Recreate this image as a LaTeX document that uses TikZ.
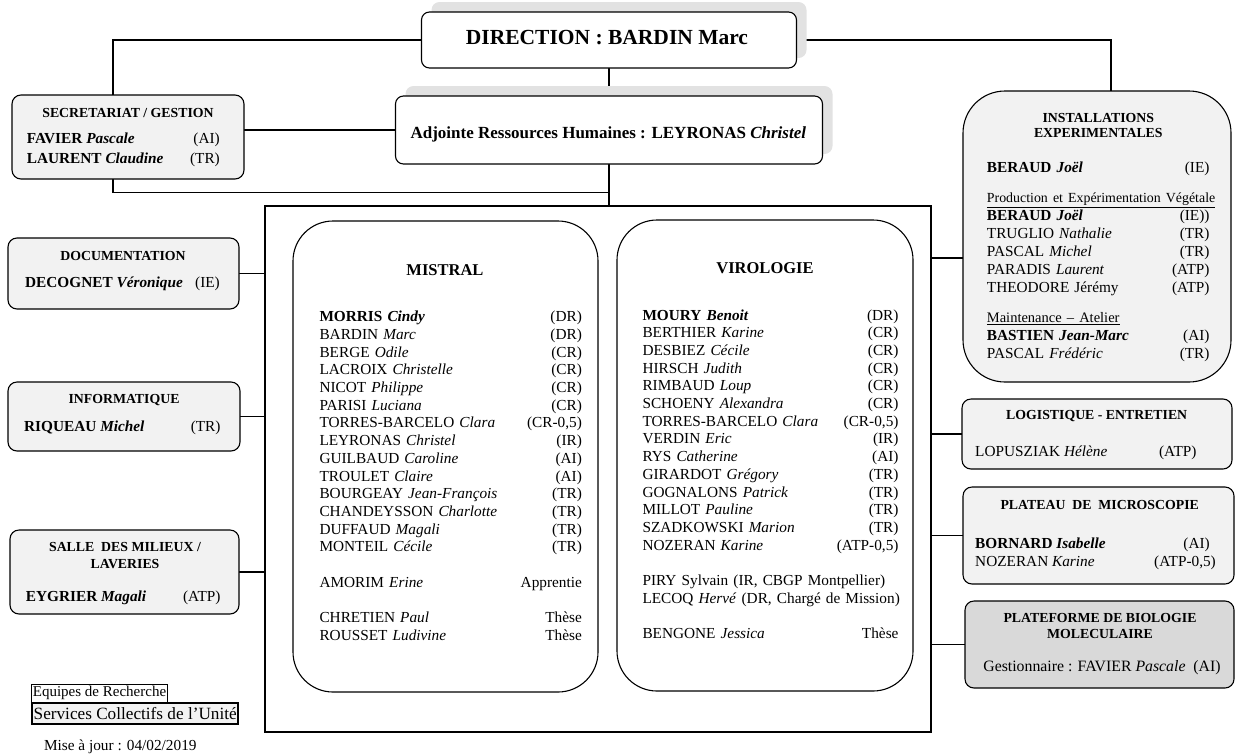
\documentclass[tikz,border=0pt]{standalone}
\usepackage{fontspec}
\setmainfont{Liberation Serif}
\usetikzlibrary{shadows,calc}
\definecolor{boxgray}{HTML}{F2F2F2}
\definecolor{platgray}{HTML}{D9D9D9}
\definecolor{shadowgray}{HTML}{E2E2E2}
\newcommand\orgrow[2]{\makebox[\linewidth]{#1\hfill#2}}
\newcommand\orgline[1]{\makebox[\linewidth][l]{#1}}
\begin{document}
\begin{tikzpicture}[x=1pt,y=-1pt,
  conn/.style={line width=1.1pt, draw=black},
  card/.style={draw, line width=1.1pt, rounded corners=9pt, fill=boxgray, inner sep=0pt},
  mainbox/.style={draw, line width=1.1pt, rounded corners=8pt, fill=white, inner sep=0pt,
     drop shadow={shadow xshift=10pt, shadow yshift=10pt, fill=shadowgray, opacity=1}},
  team/.style={draw, line width=1.1pt, rounded corners=40pt, fill=white, inner sep=0pt},
  hdr/.style={font=\fontsize{13.8}{14.8}\selectfont\bfseries, inner sep=0pt, anchor=base},
  nm/.style={font=\fontsize{15.3}{17.7}\selectfont, inner sep=0pt},
  lst/.style={nm, anchor=base west, align=left}
]
\useasboundingbox (0,0) rectangle (1236,753);

% ---------- boxes (positions only) ----------
\node[draw=none, minimum width=375pt, minimum height=56pt, inner sep=0pt] (dir) at (609,40) {};
\node[draw=none, minimum width=427pt, minimum height=68pt, inner sep=0pt] (adj) at (609,130) {};
\node[draw=none, minimum width=232pt, minimum height=84pt, inner sep=0pt] (sec) at (128,137) {};
\node[draw=none, minimum width=666pt, minimum height=526pt, inner sep=0pt] (big) at (598,469) {};
\node[draw=none, minimum width=231pt, minimum height=71pt, inner sep=0pt] (doc) at (123.5,273.5) {};
\node[draw=none, minimum width=232pt, minimum height=69pt, inner sep=0pt] (info) at (124,416.5) {};
\node[draw=none, minimum width=229pt, minimum height=84pt, inner sep=0pt] (salle) at (124.5,572) {};
\node[draw=none, minimum width=268pt, minimum height=291pt, inner sep=0pt] (inst) at (1097,236.5) {};
\node[draw=none, minimum width=270pt, minimum height=70pt, inner sep=0pt] (logi) at (1097,434) {};
\node[draw=none, minimum width=271pt, minimum height=97pt, inner sep=0pt] (plat) at (1098.5,535.5) {};
\node[draw=none, minimum width=269pt, minimum height=87pt, inner sep=0pt] (platef) at (1099.5,644.5) {};

% ---------- connectors ----------
\coordinate (j) at ($(adj.south)+(0,28)$);
\coordinate (ie) at ([yshift=-21.5pt]inst.west);
\draw[conn] (dir.west) -| ([xshift=-15pt]sec.north);
\draw[conn] (dir.east) -| ([xshift=14pt]inst.north);
\draw[conn] (dir.south) -- (adj.north);
\draw[conn] (sec.east |- adj.west) -- (adj.west);
\draw[conn] (adj.south) -- (adj.south |- big.north);
\draw[conn] ([xshift=-15pt]sec.south) |- (j);
\draw[conn] (doc.east) -- (doc.east -| big.west);
\draw[conn] (info.east) -- (info.east -| big.west);
\draw[conn] (salle.east) -- (salle.east -| big.west);
\draw[conn] (ie) -- (ie -| big.east);
\draw[conn] (logi.west) -- (logi.west -| big.east);
\draw[conn] (plat.west) -- (plat.west -| big.east);
\draw[conn] (platef.west) -- (platef.west -| big.east);

% ---------- drawn boxes ----------
\node[mainbox, minimum width=375pt, minimum height=56pt] (dirbox) at (dir) {};
\node[mainbox, minimum width=427pt, minimum height=68pt] (adjbox) at (adj) {};
\node[card, minimum width=232pt, minimum height=84pt] (secbox) at (sec) {};
\node[draw, line width=1.1pt, minimum width=666pt, minimum height=526pt, inner sep=0pt] (bigbox) at (big) {};
\node[team, minimum width=305pt, minimum height=471pt] (mis) at (445.5,456.5) {};
\node[team, minimum width=296pt, minimum height=471pt] (vir) at (765,455.5) {};
\node[card, minimum width=231pt, minimum height=71pt] (docbox) at (doc) {};
\node[card, minimum width=232pt, minimum height=69pt] (infobox) at (info) {};
\node[card, minimum width=229pt, minimum height=84pt] (sallebox) at (salle) {};
\node[card, rounded corners=42pt, minimum width=268pt, minimum height=291pt] (instbox) at (inst) {};
\node[card, minimum width=270pt, minimum height=70pt] (logibox) at (logi) {};
\node[card, minimum width=271pt, minimum height=97pt] (platbox) at (plat) {};
\node[card, fill=platgray, minimum width=269pt, minimum height=87pt] (platefbox) at (platef) {};

% ---------- texts: direction ----------
\node[inner sep=0pt, anchor=base, font=\fontsize{21.5}{24}\selectfont\bfseries] (dirt) at (607,44.8) {DIRECTION : BARDIN Marc};
\node[inner sep=0pt, anchor=base, font=\fontsize{17}{20}\selectfont\bfseries] (adjt) at (608.3,138.3) {Adjointe Ressources Humaines : LEYRONAS \textit{Christel}};

% secretariat
\node[hdr] (sech) at (128,117.3) {SECRETARIAT / GESTION};
\node[nm, anchor=base west] (sec1) at (26.7,143) {\textbf{FAVIER \textit{Pascale}}};
\node[nm, anchor=base east] (sec1t) at (220,143) {(AI)};
\node[nm, anchor=base west] (sec2) at (26.7,163) {\textbf{LAURENT \textit{Claudine}}};
\node[nm, anchor=base east] (sec2t) at (220,163) {(TR)};

% documentation
\node[hdr] (doch) at (123,260.6) {DOCUMENTATION};
\node[nm, anchor=base west] (doc1) at (25,287.7) {\textbf{DECOGNET \textit{Véronique}}};
\node[nm, anchor=base east] (doc1t) at (220,287.7) {(IE)};

% informatique
\node[hdr] (infoh) at (124,403) {INFORMATIQUE};
\node[nm, anchor=base west] (info1) at (24,431) {\textbf{RIQUEAU \textit{Michel}}};
\node[nm, anchor=base east] (info1t) at (220.7,431) {(TR)};

% salle des milieux
\node[hdr] (salleh1) at (125,551.3) {SALLE\ \ DES MILIEUX /};
\node[hdr] (salleh2) at (125,568.9) {LAVERIES};
\node[nm, anchor=base west] (salle1) at (25.7,601.7) {\textbf{EYGRIER \textit{Magali}}};
\node[nm, anchor=base east] (salle1t) at (220.7,601.7) {(ATP)};

% legend
\node[draw, line width=0.8pt, inner xsep=1.5pt, inner ysep=0pt, minimum height=18pt, anchor=west,
      font=\fontsize{15}{17}\selectfont] (leg1) at (31,693.3) {Equipes de Recherche};
\node[draw, line width=2.4pt, fill=boxgray, inner xsep=1.5pt, inner ysep=0pt, minimum height=21pt, anchor=west,
      font=\fontsize{17.2}{18}\selectfont] (leg2) at (31,713.6) {Services Collectifs de l’Unité};
\node[inner sep=0pt, anchor=base, font=\fontsize{15.3}{17}\selectfont] (maj) at (120.3,750) {Mise à jour : 04/02/2019};

% ---------- MISTRAL ----------
\node[inner sep=0pt, anchor=base, font=\fontsize{16.5}{19}\selectfont\bfseries] (mish) at (445,275.5) {MISTRAL};
\node[lst, text width=262.4pt] (misl) at (319.3,321.7) {%
\orgrow{\textbf{MORRIS \textit{Cindy}}}{(DR)}\\
\orgrow{BARDIN \textit{Marc}}{(DR)}\\
\orgrow{BERGE \textit{Odile}}{(CR)}\\
\orgrow{LACROIX \textit{Christelle}}{(CR)}\\
\orgrow{NICOT \textit{Philippe}}{(CR)}\\
\orgrow{PARISI \textit{Luciana}}{(CR)}\\
\orgrow{TORRES-BARCELO \textit{Clara}}{(CR-0,5)}\\
\orgrow{LEYRONAS \textit{Christel}}{(IR)}\\
\orgrow{GUILBAUD \textit{Caroline}}{(AI)}\\
\orgrow{TROULET \textit{Claire}}{(AI)}\\
\orgrow{BOURGEAY \textit{Jean-François}}{(TR)}\\
\orgrow{CHANDEYSSON \textit{Charlotte}}{(TR)}\\
\orgrow{DUFFAUD \textit{Magali}}{(TR)}\\
\orgrow{MONTEIL \textit{Cécile}}{(TR)}\\
\mbox{}\\
\orgrow{AMORIM \textit{Erine}}{Apprentie}\\
\mbox{}\\
\orgrow{CHRETIEN \textit{Paul}}{Thèse}\\
\orgrow{ROUSSET \textit{Ludivine}}{Thèse}};

% ---------- VIROLOGIE ----------
\node[inner sep=0pt, anchor=base, font=\fontsize{16.5}{19}\selectfont\bfseries] (virh) at (765,273.5) {VIROLOGIE};
\node[lst, text width=256pt] (virl) at (642.3,320) {%
\orgrow{\textbf{MOURY \textit{Benoit}}}{(DR)}\\
\orgrow{BERTHIER \textit{Karine}}{(CR)}\\
\orgrow{DESBIEZ \textit{Cécile}}{(CR)}\\
\orgrow{HIRSCH \textit{Judith}}{(CR)}\\
\orgrow{RIMBAUD \textit{Loup}}{(CR)}\\
\orgrow{SCHOENY \textit{Alexandra}}{(CR)}\\
\orgrow{TORRES-BARCELO \textit{Clara}}{(CR-0,5)}\\
\orgrow{VERDIN \textit{Eric}}{(IR)}\\
\orgrow{RYS \textit{Catherine}}{(AI)}\\
\orgrow{GIRARDOT \textit{Grégory}}{(TR)}\\
\orgrow{GOGNALONS \textit{Patrick}}{(TR)}\\
\orgrow{MILLOT \textit{Pauline}}{(TR)}\\
\orgrow{SZADKOWSKI \textit{Marion}}{(TR)}\\
\orgrow{NOZERAN \textit{Karine}}{(ATP-0,5)}\\
\mbox{}\\
\orgline{PIRY Sylvain (IR, CBGP Montpellier)}\\
\orgline{LECOQ \textit{Hervé} (DR, Chargé de Mission)}\\
\mbox{}\\
\orgrow{BENGONE \textit{Jessica}}{Thèse}};

% ---------- INSTALLATIONS ----------
\node[hdr] (insth1) at (1098.3,122.9) {INSTALLATIONS};
\node[hdr] (insth2) at (1098.3,137.3) {EXPERIMENTALES};
\node[lst, text width=222.6pt, font=\fontsize{15.3}{18}\selectfont] (instl) at (986.7,172.3) {%
\orgrow{\textbf{BERAUD \textit{Joël}}}{(IE)}\\[12pt]
{\fontsize{13.9}{18}\selectfont\underline{Production et Expérimentation Végétale}}\\
\orgrow{\textbf{BERAUD \textit{Joël}}}{(IE))}\\
\orgrow{TRUGLIO \textit{Nathalie}}{(TR)}\\
\orgrow{PASCAL \textit{Michel}}{(TR)}\\
\orgrow{PARADIS \textit{Laurent}}{(ATP)}\\
\orgrow{THEODORE Jérémy}{(ATP)}\\[12pt]
{\fontsize{14.5}{18}\selectfont\underline{Maintenance – Atelier}}\\
\orgrow{\textbf{BASTIEN \textit{Jean-Marc}}}{(AI)}\\
\orgrow{PASCAL \textit{Frédéric}}{(TR)}};

% ---------- LOGISTIQUE ----------
\node[hdr] (logih) at (1096.7,419.6) {LOGISTIQUE - ENTRETIEN};
\node[nm, anchor=base west] (logi1) at (975,456.7) {LOPUSZIAK \textit{Hélène}};
\node[nm, anchor=base east] (logi1t) at (1196.7,456.7) {(ATP)};

% ---------- PLATEAU ----------
\node[hdr] (plath) at (1099.7,509.6) {PLATEAU\ \ DE\ \ MICROSCOPIE};
\node[nm, anchor=base west] (plat1) at (975,548.3) {\textbf{BORNARD \textit{Isabelle}}};
\node[nm, anchor=base east] (plat1t) at (1210,548.3) {(AI)};
\node[nm, anchor=base west] (plat2) at (975,566.7) {NOZERAN \textit{Karine}};
\node[nm, anchor=base east] (plat2t) at (1216,566.7) {(ATP-0,5)};

% ---------- PLATEFORME ----------
\node[hdr] (platefh1) at (1100,622.9) {PLATEFORME DE BIOLOGIE};
\node[hdr] (platefh2) at (1100,638.6) {MOLECULAIRE};
\node[nm, anchor=base, font=\fontsize{15.8}{18}\selectfont] (platef1) at (1102,671) {Gestionnaire : FAVIER \textit{Pascale}\ \ (AI)};
\end{tikzpicture}
\end{document}
